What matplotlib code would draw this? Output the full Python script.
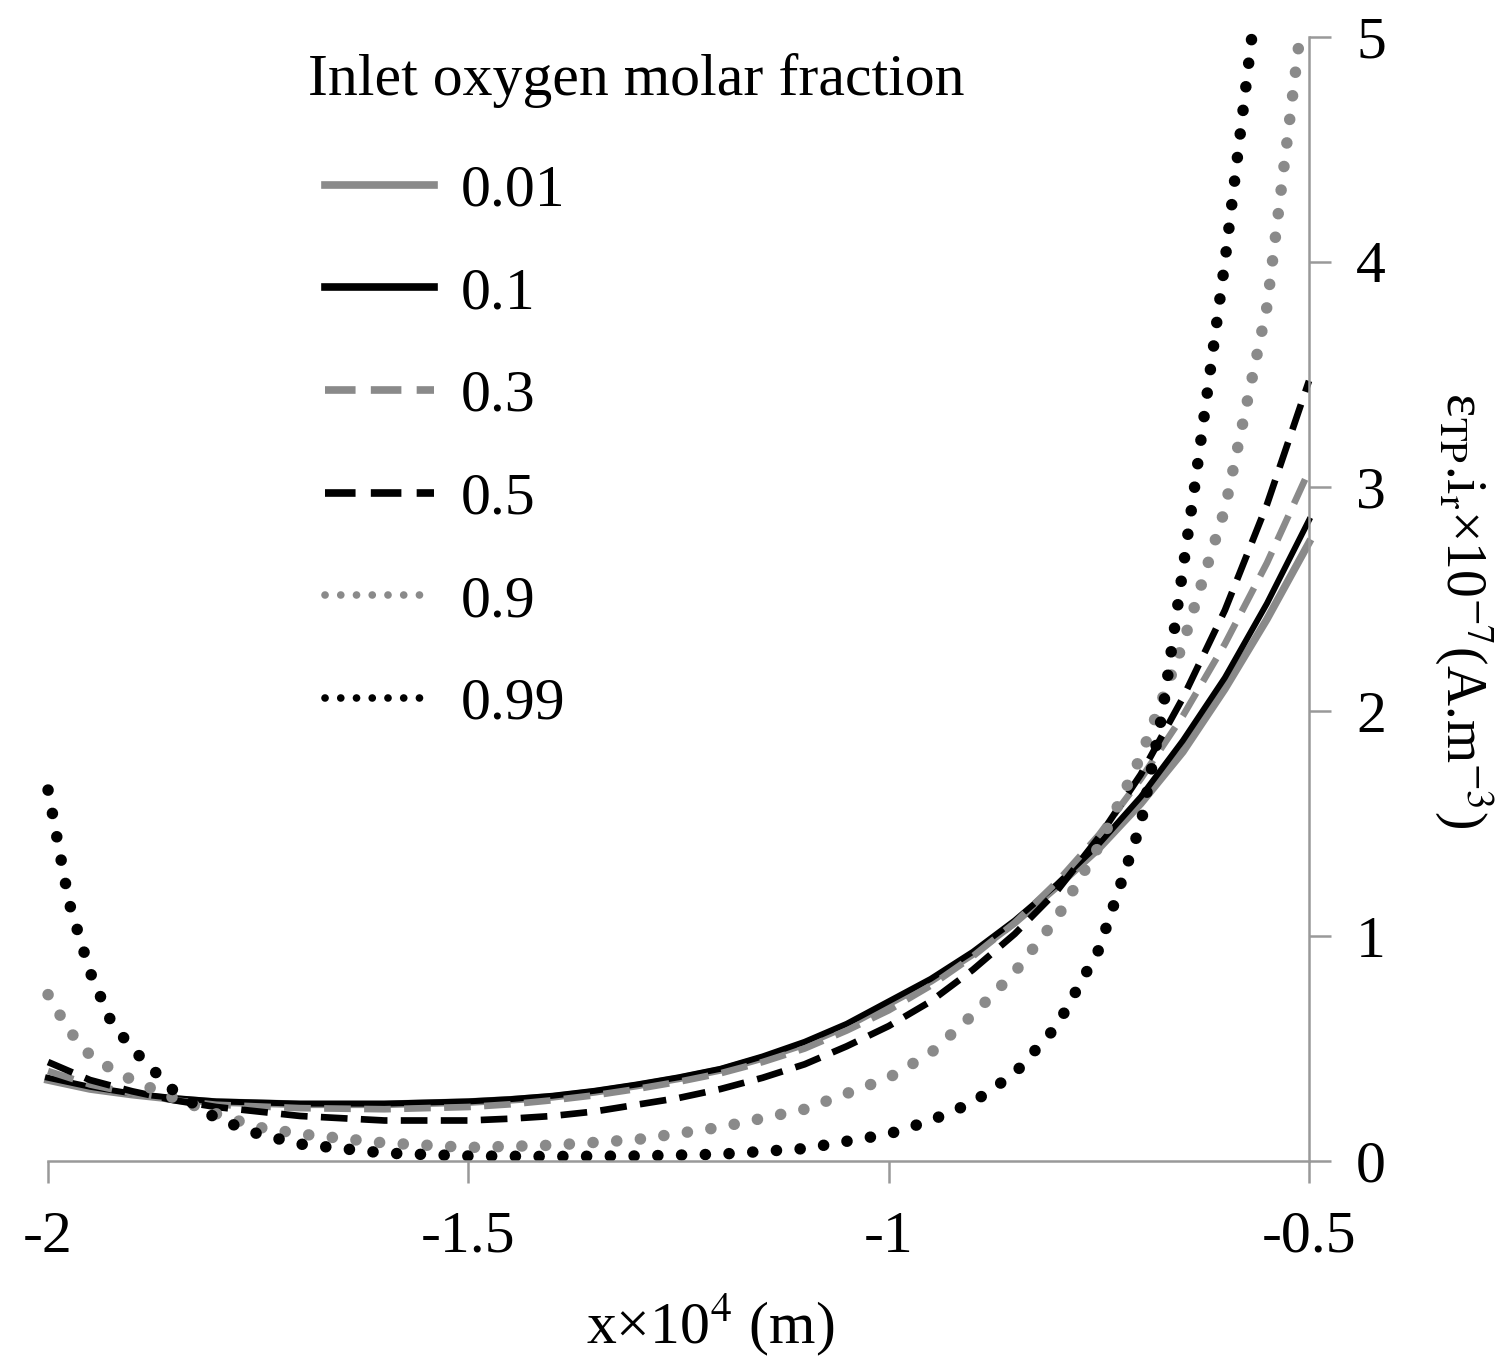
import numpy as np
import matplotlib.pyplot as plt

plt.rcParams['font.family'] = ['Liberation Serif', 'DejaVu Serif']
plt.rcParams['mathtext.fontset'] = 'stix'
plt.rcParams['axes.unicode_minus'] = False

# x positions (x*10^4 m) and curve values (x10^-7 A.m^-3)
x_main = [-2.0, -1.95, -1.9, -1.85, -1.8, -1.7, -1.6, -1.5, -1.45, -1.4, -1.35, -1.3,
          -1.25, -1.2, -1.15, -1.1, -1.05, -1.0, -0.95, -0.9, -0.85, -0.8, -0.75,
          -0.7, -0.65, -0.6, -0.55, -0.5]
y_001 = [0.36, 0.32, 0.295, 0.275, 0.262, 0.252, 0.252, 0.262, 0.272, 0.285, 0.307, 0.335,
         0.367, 0.405, 0.458, 0.52, 0.60, 0.70, 0.80, 0.92, 1.06, 1.22, 1.39,
         1.59, 1.82, 2.10, 2.41, 2.75]
y_01 = [0.37, 0.33, 0.30, 0.28, 0.265, 0.255, 0.255, 0.265, 0.275, 0.29, 0.312, 0.34,
        0.372, 0.41, 0.465, 0.53, 0.61, 0.71, 0.81, 0.93, 1.07, 1.23, 1.41,
        1.62, 1.87, 2.15, 2.48, 2.85]
y_03 = [0.40, 0.34, 0.30, 0.27, 0.25, 0.235, 0.23, 0.24, 0.252, 0.27, 0.292, 0.32,
        0.352, 0.39, 0.44, 0.50, 0.58, 0.67, 0.78, 0.91, 1.06, 1.24, 1.45,
        1.70, 1.98, 2.30, 2.66, 3.07]
y_05 = [0.44, 0.36, 0.31, 0.27, 0.24, 0.20, 0.18, 0.18, 0.188, 0.20, 0.22, 0.25,
        0.28, 0.32, 0.37, 0.43, 0.51, 0.60, 0.71, 0.85, 1.01, 1.20, 1.44,
        1.72, 2.06, 2.45, 2.92, 3.47]

x_09 = [-2.0, -1.975, -1.95, -1.925, -1.9, -1.85, -1.8, -1.75, -1.7, -1.6, -1.5, -1.4,
        -1.3, -1.2, -1.1, -1.0, -0.95, -0.9, -0.85, -0.8, -0.75, -0.7, -0.65, -0.6,
        -0.55, -0.511]
y_09 = [0.74, 0.58, 0.47, 0.41, 0.36, 0.28, 0.21, 0.15, 0.12, 0.08, 0.06, 0.07,
        0.095, 0.15, 0.23, 0.37, 0.48, 0.65, 0.84, 1.08, 1.40, 1.80, 2.30, 2.90,
        3.80, 5.0]

x_099 = [-2.0, -1.975, -1.95, -1.925, -1.9, -1.85, -1.8, -1.75, -1.7, -1.6, -1.5, -1.4,
         -1.3, -1.2, -1.1, -1.0, -0.95, -0.9, -0.85, -0.8, -0.75, -0.7, -0.674, -0.636,
         -0.6, -0.568]
y_099 = [1.65, 1.15, 0.84, 0.62, 0.50, 0.31, 0.19, 0.12, 0.075, 0.035, 0.022, 0.02,
         0.022, 0.03, 0.055, 0.12, 0.18, 0.26, 0.39, 0.60, 0.94, 1.50, 2.0, 3.0,
         4.0, 5.0]

labels = ['0.01', '0.1', '0.3', '0.5', '0.9', '0.99']

fig = plt.figure(figsize=(15.11, 13.58), dpi=100)
ax = fig.add_axes([0.0318, 0.1451, 0.8345, 0.8277])

gray = '#8a8a8a'
fs = 43
ax.plot(x_main, y_001, color=gray, lw=5.5, label=labels[0], clip_on=False)
ax.plot(x_main, y_01, color='black', lw=4.3, label=labels[1], clip_on=False)
ax.plot(x_main, y_03, color=gray, lw=4.8, ls=(0, (4, 2.0)), label=labels[2], clip_on=False)
ax.plot(x_main, y_05, color='black', lw=4.8, ls=(0, (4, 2.0)), label=labels[3], clip_on=False)
ax.plot(x_09, y_09, color=gray, lw=8.3, ls=(0, (0.01, 2.05)), dash_capstyle='round',
        label=labels[4], clip_on=False)
ax.plot(x_099, y_099, color='black', lw=8.3, ls=(0, (0.01, 2.05)), dash_capstyle='round',
        label=labels[5], clip_on=False)

ax.set_xlim(-2, -0.5)
ax.set_ylim(0, 5)
ax.set_xticks([-2, -1.5, -1, -0.5])
ax.set_xticklabels(['-2', '-1.5', '-1', '-0.5'])
ax.set_yticks([0, 1, 2, 3, 4, 5])

for s in ['top', 'left']:
    ax.spines[s].set_visible(False)
for s in ['bottom', 'right']:
    ax.spines[s].set_color('#999999')
    ax.spines[s].set_linewidth(1.8)

ax.yaxis.tick_right()
ax.yaxis.set_label_position('right')
ax.tick_params(axis='x', direction='out', length=16, width=1.8, color='#999999',
               labelsize=fs, pad=20)
ax.tick_params(axis='y', direction='out', length=16, width=1.8, color='#999999',
               labelsize=fs, pad=18)

ax.set_xlabel(r'x×10$^{4}$ (m)', fontsize=fs)
ax.xaxis.set_label_coords(0.525, -0.115)
ax.set_ylabel(r'ε$_{\rm TP}$.i$_{\rm r}$×10$^{-7}$(A.m$^{-3}$)', fontsize=40,
              rotation=270)
ax.yaxis.set_label_coords(1.148, 0.49)

fig.text(308 / 1511, 1 - 80 / 1358, 'Inlet oxygen molar fraction', fontsize=fs,
         ha='left', va='center')
leg = ax.legend(loc='upper left', bbox_to_anchor=(0.22, 0.887), frameon=False,
                fontsize=fs, handlelength=1.82, handletextpad=0.45, labelspacing=0.8,
                borderaxespad=0, borderpad=0)
for h in leg.get_lines():
    h.set_linewidth(5.5)

fig.savefig('out.png', dpi=100)
